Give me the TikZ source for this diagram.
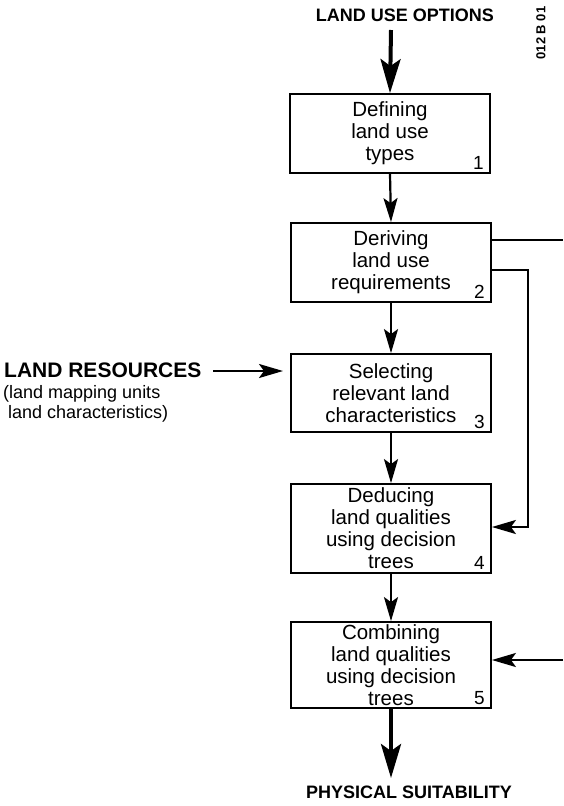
\documentclass[tikz,border=0pt]{standalone}
\usepackage{fontspec}
\setmainfont{Liberation Sans}
\usetikzlibrary{arrows.meta}
\begin{document}
\begin{tikzpicture}[x=1pt,y=-1pt,
  stepbox/.style={draw,line width=1.8pt,minimum width=200pt,minimum height=#1,
    inner sep=0pt,align=center,font=\fontsize{20.5}{22}\selectfont},
  numlabel/.style={font=\fontsize{19}{21}\selectfont,inner sep=0pt},
  heading/.style={font=\bfseries\fontsize{18}{20}\selectfont,inner sep=0pt},
  thin/.style={line width=2.2pt,-{Stealth[length=24pt,width=14pt,inset=5pt]}},
  thick/.style={line width=4pt,-{Stealth[length=34pt,width=20pt,inset=7pt]}},
  plain/.style={line width=1.8pt}]
\useasboundingbox (0,0) rectangle (563,806);

% process boxes
\node[stepbox=79pt] (b1) at (390,133.5) {Defining\\land use\\types};
\node[stepbox=79pt] (b2) at (391,262.5) {Deriving\\land use\\requirements};
\node[stepbox=78pt] (b3) at (391,393) {Selecting\\relevant land\\characteristics};
\node[stepbox=89pt] (b4) at (391,528.5) {Deducing\\land qualities\\using decision\\trees};
\node[stepbox=86pt] (b5) at (391,665) {Combining\\land qualities\\using decision\\trees};

\node[numlabel,anchor=south east] (n1) at ([shift={(-7,-4)}]b1.south east) {1};
\node[numlabel,anchor=south east] (n2) at ([shift={(-7,-4)}]b2.south east) {2};
\node[numlabel,anchor=south east] (n3) at ([shift={(-7,-4)}]b3.south east) {3};
\node[numlabel,anchor=south east] (n4) at ([shift={(-7,-4)}]b4.south east) {4};
\node[numlabel,anchor=south east] (n5) at ([shift={(-7,-4)}]b5.south east) {5};

% inputs and output
\node[heading] (opt) at (405,15) {LAND USE OPTIONS};
\node[heading] (phys) at (409,792) {PHYSICAL SUITABILITY};
\node[heading,anchor=west,font=\bfseries\fontsize{21}{22}\selectfont] (res) at (4,370) {LAND RESOURCES};
\node[anchor=north west,inner sep=0pt,align=left,font=\fontsize{18}{20}\selectfont] (resnote) at (3,385)
  {(land mapping units\\\ land characteristics)};
\node[rotate=90,inner sep=0pt,font=\bfseries\fontsize{13}{14}\selectfont] (code) at (541,33) {012 B 01};

% main flow
\coordinate (optfoot) at (391,30);
\draw[thick] (optfoot) -- (b1.north);
\draw[thin] (b1.south) -- (b2.north);
\draw[thin] (b2.south) -- (b3.north);
\draw[thin] (b3.south) -- (b4.north);
\draw[thin] (b4.south) -- (b5.north);
\coordinate (physhead) at (391,778);
\draw[thick] (b5.south) -- (physhead);

% land resources input
\coordinate (resstart) at (213,371);
\coordinate (restip) at (283,371);
\draw[thin] (resstart) -- (restip);

% feedback connections
\coordinate (out2a) at (563,240);
\draw[plain] (b2.east |- out2a) -- (out2a);
\coordinate (turn2) at (528,270);
\coordinate (turn4) at (528,527);
\draw[thin] (b2.east |- turn2) -- (turn2) -- (turn4) -- (b4.east |- turn4);
\coordinate (in5) at (563,660);
\draw[thin] (in5) -- (b5.east |- in5);
\end{tikzpicture}
\end{document}
